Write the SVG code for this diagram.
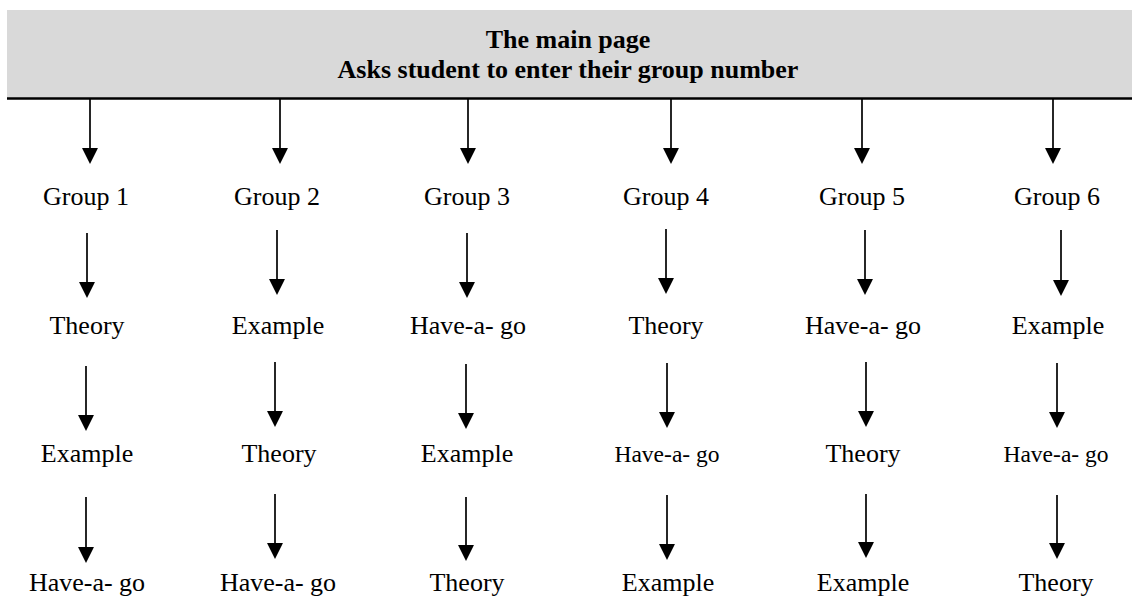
<svg xmlns="http://www.w3.org/2000/svg" width="1132" height="597" viewBox="0 0 1132 597">
<style>
  .t { font-family: "Liberation Serif", "Times New Roman", serif; font-size: 26px; fill: #000; text-anchor: middle; }
  .s { font-size: 23.5px; }
  .h { font-weight: bold; }
  .a { stroke: #000; stroke-width: 1.7; fill: none; marker-end: url(#ah); }
</style>
<defs>
  <marker id="ah" markerUnits="userSpaceOnUse" markerWidth="16" markerHeight="16" viewBox="0 0 15 15" refX="1" refY="7.5" orient="auto">
    <path d="M0,0 L15,7.5 L0,15 Z" fill="#000"/>
  </marker>
</defs>
<rect width="1132" height="597" fill="#fff"/>
<g id="header">
  <rect x="7" y="10" width="1125" height="88" fill="#d9d9d9"/>
  <line x1="7" y1="98.5" x2="1132" y2="98.5" stroke="#000" stroke-width="2.4"/>
  <text class="t h" x="568" y="48">The main page</text>
  <text class="t h" x="568" y="78">Asks student to enter their group number</text>
</g>
<g id="connectors">
  <!-- header to groups -->
  <line class="a" x1="90" y1="99" x2="90" y2="149"/>
  <line class="a" x1="280" y1="99" x2="280" y2="149"/>
  <line class="a" x1="468" y1="99" x2="468" y2="149"/>
  <line class="a" x1="671" y1="99" x2="671" y2="149"/>
  <line class="a" x1="862" y1="99" x2="862" y2="149"/>
  <line class="a" x1="1053" y1="99" x2="1053" y2="149"/>
  <!-- groups to row 2 -->
  <line class="a" x1="87" y1="233" x2="87" y2="283"/>
  <line class="a" x1="277" y1="230" x2="277" y2="280"/>
  <line class="a" x1="467" y1="233" x2="467" y2="283"/>
  <line class="a" x1="666" y1="229" x2="666" y2="279"/>
  <line class="a" x1="865" y1="230" x2="865" y2="280"/>
  <line class="a" x1="1061" y1="230" x2="1061" y2="281"/>
  <!-- row 2 to row 3 -->
  <line class="a" x1="86" y1="366" x2="86" y2="416"/>
  <line class="a" x1="275" y1="362" x2="275" y2="412"/>
  <line class="a" x1="466" y1="364" x2="466" y2="414"/>
  <line class="a" x1="667" y1="363" x2="667" y2="413"/>
  <line class="a" x1="866" y1="362" x2="866" y2="412"/>
  <line class="a" x1="1057" y1="363" x2="1057" y2="413"/>
  <!-- row 3 to row 4 -->
  <line class="a" x1="86" y1="497" x2="86" y2="548"/>
  <line class="a" x1="275" y1="494" x2="275" y2="544"/>
  <line class="a" x1="466" y1="497" x2="466" y2="546"/>
  <line class="a" x1="667" y1="495" x2="667" y2="545"/>
  <line class="a" x1="866" y1="494" x2="866" y2="543"/>
  <line class="a" x1="1057" y1="495" x2="1057" y2="544"/>
</g>
<g id="group1">
  <text class="t" x="86" y="205">Group 1</text>
  <text class="t" x="87" y="334">Theory</text>
  <text class="t" x="87" y="462">Example</text>
  <text class="t" x="87" y="591">Have-a- go</text>
</g>
<g id="group2">
  <text class="t" x="277" y="205">Group 2</text>
  <text class="t" x="278" y="334">Example</text>
  <text class="t" x="279" y="462">Theory</text>
  <text class="t" x="278" y="591">Have-a- go</text>
</g>
<g id="group3">
  <text class="t" x="467" y="205">Group 3</text>
  <text class="t" x="468" y="334">Have-a- go</text>
  <text class="t" x="467" y="462">Example</text>
  <text class="t" x="467" y="591">Theory</text>
</g>
<g id="group4">
  <text class="t" x="666" y="205">Group 4</text>
  <text class="t" x="666" y="334">Theory</text>
  <text class="t s" x="667" y="462">Have-a- go</text>
  <text class="t" x="668" y="591">Example</text>
</g>
<g id="group5">
  <text class="t" x="862" y="205">Group 5</text>
  <text class="t" x="863" y="334">Have-a- go</text>
  <text class="t" x="863" y="462">Theory</text>
  <text class="t" x="863" y="591">Example</text>
</g>
<g id="group6">
  <text class="t" x="1057" y="205">Group 6</text>
  <text class="t" x="1058" y="334">Example</text>
  <text class="t s" x="1056" y="462">Have-a- go</text>
  <text class="t" x="1056" y="591">Theory</text>
</g>
</svg>
